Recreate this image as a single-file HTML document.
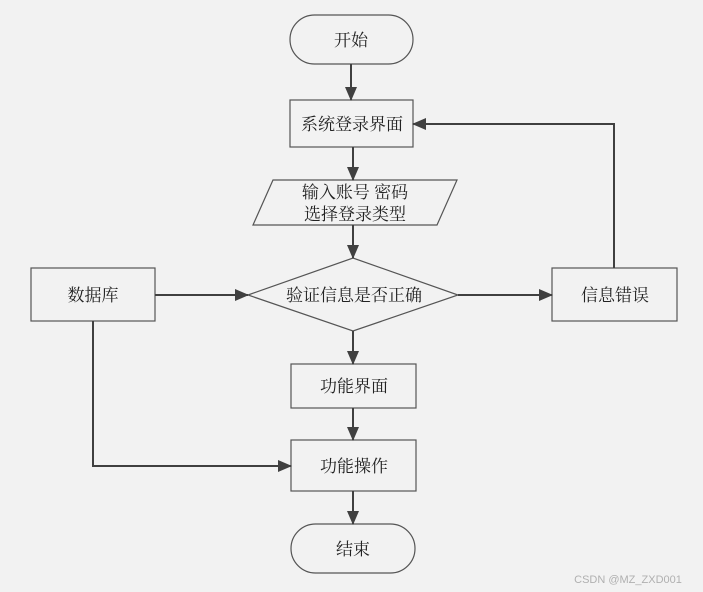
<!DOCTYPE html>
<html><head><meta charset="utf-8"><style>
html,body{margin:0;padding:0;background:#f2f2f2;}
svg{display:block}
text{font-family:"Liberation Serif","Noto Serif CJK SC",serif;font-size:17px;fill:#222;text-anchor:middle;}
</style></head><body>
<svg width="703" height="592" viewBox="0 0 703 592">
<defs><marker id="a" markerWidth="14" markerHeight="12" refX="13" refY="6" orient="auto" markerUnits="userSpaceOnUse"><path d="M0,0 L14,6 L0,12 z" fill="#404040"/></marker></defs>
<g fill="#f2f2f2" stroke="#555" stroke-width="1.2">
<rect x="290" y="15" width="123" height="49" rx="24.5"/>
<rect x="290" y="100" width="123" height="47"/>
<polygon points="273,180 457,180 437,225 253,225"/>
<polygon points="248,295 353,258 458,295 353,331"/>
<rect x="31" y="268" width="124" height="53"/>
<rect x="552" y="268" width="125" height="53"/>
<rect x="291" y="364" width="125" height="44"/>
<rect x="291" y="440" width="125" height="51"/>
<rect x="291" y="524" width="124" height="49" rx="24.5"/>
</g>
<g stroke="#404040" stroke-width="2" fill="none">
<line x1="351" y1="64" x2="351" y2="100" marker-end="url(#a)"/>
<line x1="353" y1="147" x2="353" y2="180" marker-end="url(#a)"/>
<line x1="353" y1="225" x2="353" y2="258" marker-end="url(#a)"/>
<line x1="155" y1="295" x2="248" y2="295" marker-end="url(#a)"/>
<line x1="458" y1="295" x2="552" y2="295" marker-end="url(#a)"/>
<polyline points="614,268 614,124 413,124" marker-end="url(#a)"/>
<line x1="353" y1="331" x2="353" y2="364" marker-end="url(#a)"/>
<line x1="353" y1="408" x2="353" y2="440" marker-end="url(#a)"/>
<line x1="353" y1="491" x2="353" y2="524" marker-end="url(#a)"/>
<polyline points="93,321 93,466 291,466" marker-end="url(#a)"/>
</g>
<text x="351" y="46">开始</text>
<text x="352" y="130">系统登录界面</text>
<text x="355" y="198">输入账号 密码</text>
<text x="355" y="220">选择登录类型</text>
<text x="354" y="301">验证信息是否正确</text>
<text x="93" y="301">数据库</text>
<text x="615" y="301">信息错误</text>
<text x="354" y="392">功能界面</text>
<text x="354" y="472">功能操作</text>
<text x="353" y="555">结束</text>
<text x="628" y="583" style="font-family:'Liberation Sans',sans-serif;font-size:11px;fill:#b0b0b0">CSDN @MZ_ZXD001</text>
</svg>
</body></html>
